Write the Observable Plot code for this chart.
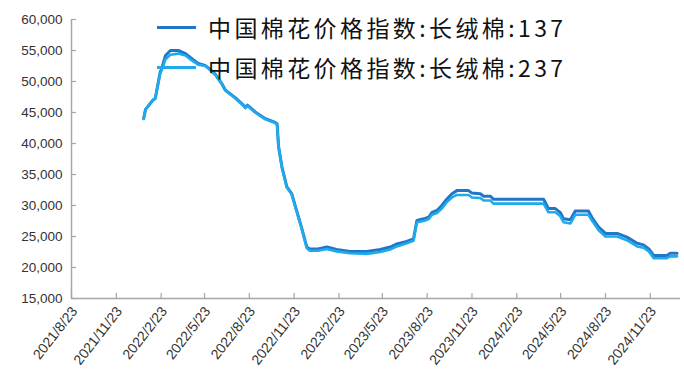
<!DOCTYPE html>
<html><head><meta charset="utf-8">
<script src="https://cdn.jsdelivr.net/npm/d3@7"></script>
<script src="https://cdn.jsdelivr.net/npm/@observablehq/plot@0.6"></script>
<style>
body{margin:0;background:#fff}
#wrap{position:relative;width:684px;height:381px;overflow:hidden}
.leg{position:absolute;left:157px;height:30px;font-family:"Noto Sans CJK SC",sans-serif;font-size:23px;color:#111;display:flex;align-items:center;letter-spacing:3.4px;white-space:nowrap}
.leg .sw{display:inline-block;width:39px;height:3px;margin-right:12px}
</style></head><body><div id="wrap"></div>
<script>
const dates = [
"2022/1/18","2022/1/22","2022/1/29","2022/2/5","2022/2/11","2022/2/21","2022/2/25","2022/3/4","2022/3/14","2022/3/30",
"2022/4/14","2022/4/27","2022/5/10","2022/5/24","2022/5/31","2022/6/14","2022/6/28","2022/7/5","2022/7/25","2022/8/8",
"2022/8/15","2022/8/19","2022/9/4","2022/9/25","2022/10/15","2022/10/19","2022/10/22","2022/10/29","2022/11/8","2022/11/18",
"2022/11/28","2022/12/8","2022/12/19","2022/12/25","2023/1/11","2023/1/29","2023/2/18","2023/3/18","2023/4/21","2023/5/19",
"2023/6/8","2023/6/22","2023/7/12","2023/7/26","2023/8/2","2023/8/16","2023/8/26","2023/9/2","2023/9/12","2023/9/22",
"2023/10/3","2023/10/13","2023/10/23","2023/11/16","2023/11/23","2023/12/10","2023/12/17","2023/12/31","2024/1/6","2024/4/18",
"2024/4/28","2024/5/12","2024/5/22","2024/5/29","2024/6/12","2024/6/22","2024/7/19","2024/7/26","2024/8/2","2024/8/9",
"2024/8/23","2024/9/16","2024/10/6","2024/10/27","2024/11/9","2024/11/20","2024/11/30","2024/12/27","2025/1/3","2025/1/17"
];
const series137 = [
44000,45500,46200,46900,47300,51500,52300,54200,55000,55000,
54500,53700,52900,52600,52200,51200,49600,48600,47400,46400,
45800,46200,45100,44000,43400,43200,39500,36200,33000,31900,
29200,26500,23300,23000,23000,23300,22900,22600,22600,22900,
23300,23800,24200,24600,27600,27850,28100,28900,29200,30000,
31100,31900,32400,32400,32000,31900,31500,31500,31000,31000,
29500,29500,28900,27850,27700,29100,29100,28100,27300,26500,
25500,25500,24900,23900,23650,23000,21950,21950,22300,22300
];
const series237 = [
44000,45500,46200,46900,47300,51300,52000,53600,54300,54500,
54200,53400,52700,52500,52100,51100,49500,48500,47300,46300,
45700,46100,45000,43900,43300,43100,39400,36100,32900,31800,
29100,26400,23100,22700,22700,23000,22600,22300,22200,22500,
22900,23400,23900,24300,27300,27500,27800,28500,28800,29500,
30600,31300,31700,31700,31300,31200,30800,30800,30300,30300,
28900,28900,28300,27300,27100,28500,28500,27600,26800,26000,
25000,25000,24400,23400,23200,22600,21500,21500,21800,21800
];
const xTickLabels = ["2021/8/23","2021/11/23","2022/2/23","2022/5/23","2022/8/23","2022/11/23","2023/2/23","2023/5/23","2023/8/23","2023/11/23","2024/2/23","2024/5/23","2024/8/23","2024/11/23"];
const xDomainLabels = ["2021/8/23","2025/1/24"];
const yTicks = [15000,20000,25000,30000,35000,40000,45000,50000,55000,60000];
const seriesNames = ["中国棉花价格指数:长绒棉:137","中国棉花价格指数:长绒棉:237"];
const colors = ["#2176C7","#1DABEC"];

const parse = d3.utcParse("%Y/%m/%d");
const rows = dates.map((d,i)=>({date: parse(d), v137: series137[i], v237: series237[i]}));
const xTicks = xTickLabels.map(parse);
const xDomain = xDomainLabels.map(parse);
const fmtDate = d => `${d.getUTCFullYear()}/${d.getUTCMonth()+1}/${d.getUTCDate()}`;
const axisColor = "#a6a6a6";

const chart = Plot.plot({
  width: 684, height: 381,
  marginLeft: 71, marginRight: 4, marginTop: 19, marginBottom: 83,
  x: {type: "utc", domain: xDomain},
  y: {domain: [15000, 60000]},
  style: {fontFamily: "'Liberation Sans', Arial, sans-serif", background: "#fff", overflow: "visible"},
  marks: [
    Plot.lineY(rows, {x: "date", y: "v137", stroke: colors[0], strokeWidth: 3}),
    Plot.lineY(rows, {x: "date", y: "v237", stroke: colors[1], strokeWidth: 2.6}),
    Plot.ruleX([xDomain[0]], {stroke: axisColor, strokeWidth: 1.5}),
    Plot.ruleY([15000], {stroke: axisColor, strokeWidth: 1.5}),
    Plot.axisY(yTicks, {anchor: "left", tickSize: 5, dx: 5, stroke: axisColor, strokeWidth: 1.2, tickFormat: () => ""}),
    Plot.axisY(yTicks, {anchor: "left", tickSize: 0, tickPadding: 9, tickFormat: d3.format(","), fontSize: 13.5, fill: "#333", style: "letter-spacing:1px"}),
    Plot.axisX(xTicks, {anchor: "bottom", tickSize: 5, dy: -5, stroke: axisColor, strokeWidth: 1.2, tickFormat: () => ""}),
    Plot.axisX(xTicks, {anchor: "bottom", tickSize: 0, tickPadding: 10, dx: 3, rotate: -52, textAnchor: "end", lineAnchor: "middle", tickFormat: fmtDate, fontSize: 14, fill: "#333", style: "letter-spacing:1px"})
  ]
});
const wrap = document.getElementById("wrap");
wrap.appendChild(chart);
const tops = [12, 52];
seriesNames.forEach((name, i) => {
  const row = document.createElement("div");
  row.className = "leg";
  row.style.top = tops[i] + "px";
  const sw = document.createElement("span");
  sw.className = "sw";
  sw.style.background = colors[i];
  row.appendChild(sw);
  const t = document.createElement("span");
  t.textContent = name;
  row.appendChild(t);
  wrap.appendChild(row);
});
</script></body></html>
